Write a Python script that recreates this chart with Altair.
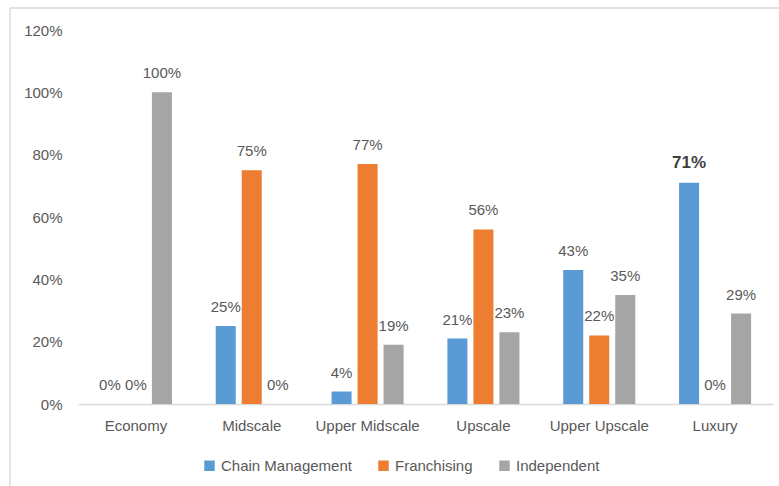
import altair as alt
import pandas as pd

categories = ["Economy", "Midscale", "Upper Midscale", "Upscale", "Upper Upscale", "Luxury"]
series_names = ["Chain Management", "Franchising", "Independent"]
chain_management = [0, 25, 4, 21, 43, 71]
franchising = [0, 75, 77, 56, 22, 0]
independent = [100, 0, 19, 23, 35, 29]
colors = ["#5B9BD5", "#ED7D31", "#A5A5A5"]
y_ticks = [0, 0.2, 0.4, 0.6, 0.8, 1.0, 1.2]
bold_label = ("Luxury", "Chain Management")

rows = []
for s, vals in zip(series_names, [chain_management, franchising, independent]):
    for c, v in zip(categories, vals):
        rows.append({"category": c, "series": s, "value": v / 100,
                     "label": f"{v}%",
                     "bold": (c, s) == bold_label})
df = pd.DataFrame(rows)

W, H = 695, 374
FONT = "Liberation Sans"
TXT = "#595959"

x_enc = alt.X("category:N", sort=categories, title=None,
              scale=alt.Scale(paddingInner=0.378, paddingOuter=0.189),
              axis=alt.Axis(labelAngle=0, labelFontSize=15, labelColor=TXT, labelFont=FONT,
                            ticks=False, domainColor="#D9D9D9", domainWidth=1.3,
                            labelPadding=14))
xoff = alt.XOffset("series:N", sort=series_names,
                   scale=alt.Scale(paddingInner=0.23, paddingOuter=0))
y_enc = alt.Y("value:Q", title=None,
              scale=alt.Scale(domain=[0, 1.2], nice=False),
              axis=alt.Axis(values=y_ticks, format=".0%", grid=False, domain=False,
                            ticks=False, labelFontSize=15, labelColor=TXT, labelFont=FONT,
                            labelPadding=16))

base = alt.Chart(df)

bars = base.mark_bar().encode(
    x=x_enc, xOffset=xoff, y=y_enc,
    color=alt.Color("series:N", sort=series_names,
                    scale=alt.Scale(domain=series_names, range=colors),
                    legend=alt.Legend(title=None, orient="none", direction="horizontal",
                                      legendX=124, legendY=428, symbolType="square",
                                      symbolSize=110, symbolStrokeWidth=0,
                                      labelFontSize=15, labelColor=TXT, labelFont=FONT,
                                      columnPadding=24, labelOffset=4)),
)

labels = base.transform_filter("!datum.bold").mark_text(
    dy=-11, baseline="bottom", fontSize=15, color=TXT, font=FONT
).encode(x=x_enc, xOffset=xoff, y=y_enc, text="label:N")

bold_labels = base.transform_filter("datum.bold").mark_text(
    dy=-11, baseline="bottom", fontSize=17, fontWeight="bold", color="#404040", font=FONT
).encode(x=x_enc, xOffset=xoff, y=y_enc, text="label:N")

frame_df = pd.DataFrame({"k": [0]})
frame_left = alt.Chart(frame_df).mark_rule(
    stroke="#D9D9D9", strokeWidth=1.3, clip=False
).encode(x=alt.value(-68), y=alt.value(-22), y2=alt.value(H + 120))
frame_top = alt.Chart(frame_df).mark_rule(
    stroke="#D9D9D9", strokeWidth=1.3, clip=False
).encode(x=alt.value(-68), x2=alt.value(W + 40), y=alt.value(-22))

chart = alt.layer(frame_left, frame_top, bars, labels, bold_labels).properties(
    width=W, height=H,
    background="white",
    autosize=alt.AutoSizeParams(type="none"),
    padding={"left": 78, "top": 30, "right": 6, "bottom": 82},
).configure_view(stroke=None, strokeWidth=0)

chart.save("out.html", embed_options={"renderer": "svg", "actions": False})
